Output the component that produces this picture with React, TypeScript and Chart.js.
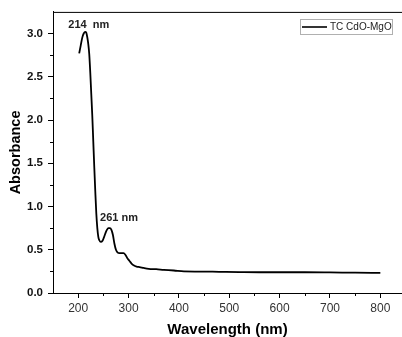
import { useEffect, useRef } from 'react';
import { Chart, registerables } from 'chart.js';

Chart.register(...registerables);

const FONT = "'Liberation Sans', Arial, sans-serif";

const wavelengths = [
  202, 205, 208, 211, 214, 216, 218, 220, 222, 224,
  226, 228, 230, 232, 234, 236, 238, 240, 242, 245,
  248, 251, 254, 257, 260, 263, 266, 269, 272, 275,
  278, 282, 286, 290, 294, 298, 302, 306, 310, 316,
  322, 330, 340, 355, 370, 390, 410, 440, 480, 520,
  560, 600, 650, 700, 750, 800,
];
const absorbance = [
  2.77, 2.86, 2.95, 3.0, 3.02, 3.01, 2.96, 2.88, 2.76, 2.55,
  2.3, 2.05, 1.75, 1.45, 1.17, 0.92, 0.75, 0.65, 0.61, 0.59,
  0.6, 0.64, 0.69, 0.73, 0.75, 0.75, 0.73, 0.67, 0.57, 0.5,
  0.47, 0.46, 0.46, 0.46, 0.44, 0.4, 0.37, 0.34, 0.32, 0.305,
  0.3, 0.29, 0.28, 0.275, 0.268, 0.26, 0.25, 0.248, 0.245, 0.242,
  0.24, 0.24, 0.24, 0.238, 0.235, 0.233,
];

const seriesLabel = 'TC CdO-MgO';
const xMajorTicks = [200, 300, 400, 500, 600, 700, 800];
const xMinorTicks = [250, 350, 450, 550, 650, 750];
const yMajorTicks = [0, 0.5, 1.0, 1.5, 2.0, 2.5, 3.0];
const yMinorTicks = [0.25, 0.75, 1.25, 1.75, 2.25, 2.75];

const annotationTexts = ['214  nm', '261 nm'];
const annotationX = [221, 281];
const annotationY = [3.1, 0.866];

const decorPlugin = {
  id: 'decor',
  afterDraw(chart: any) {
    const { ctx, chartArea, scales } = chart;
    const xs = scales.x;
    const ys = scales.y;
    ctx.save();
    ctx.strokeStyle = '#000';
    ctx.lineWidth = 1;
    // top axis line
    ctx.beginPath();
    ctx.moveTo(chartArea.left, chartArea.top + 0.5);
    ctx.lineTo(chartArea.right, chartArea.top + 0.5);
    ctx.stroke();
    // minor ticks
    ctx.beginPath();
    xMinorTicks.forEach((v) => {
      const px = Math.round(xs.getPixelForValue(v)) + 0.5;
      ctx.moveTo(px, chartArea.bottom);
      ctx.lineTo(px, chartArea.bottom + 3);
    });
    yMinorTicks.forEach((v) => {
      const py = Math.round(ys.getPixelForValue(v)) + 0.5;
      ctx.moveTo(chartArea.left - 3, py);
      ctx.lineTo(chartArea.left, py);
    });
    ctx.stroke();

    // annotations
    ctx.fillStyle = '#222';
    ctx.font = `bold 11px ${FONT}`;
    ctx.textAlign = 'center';
    ctx.textBaseline = 'middle';
    annotationTexts.forEach((t, i) => {
      ctx.fillText(t, xs.getPixelForValue(annotationX[i]), ys.getPixelForValue(annotationY[i]));
    });

    // legend box
    const lx = 300;
    const ly = 19.5;
    const lw = 92;
    const lh = 15;
    ctx.strokeStyle = '#b0b0b0';
    ctx.lineWidth = 1;
    ctx.strokeRect(lx + 0.5, ly, lw, lh);
    ctx.strokeStyle = '#000';
    ctx.lineWidth = 1.6;
    ctx.beginPath();
    ctx.moveTo(lx + 2, ly + lh / 2);
    ctx.lineTo(lx + 27, ly + lh / 2);
    ctx.stroke();
    ctx.fillStyle = '#222';
    ctx.font = `10px ${FONT}`;
    ctx.textAlign = 'left';
    ctx.textBaseline = 'middle';
    ctx.fillText(seriesLabel, lx + 30, ly + lh / 2 + 0.5);
    ctx.restore();
  },
};

export default function App() {
  const canvasRef = useRef<HTMLCanvasElement>(null);

  useEffect(() => {
    if (!canvasRef.current) return;
    const chart = new Chart(canvasRef.current, {
      type: 'line',
      data: {
        datasets: [
          {
            label: seriesLabel,
            data: wavelengths.map((w, i) => ({ x: w, y: absorbance[i] })),
            borderColor: '#000',
            borderWidth: 1.8,
            pointRadius: 0,
            cubicInterpolationMode: 'monotone',
            fill: false,
          },
        ],
      },
      options: {
        responsive: false,
        animation: false,
        events: [],
        layout: { padding: { left: 0, right: 0, top: 9, bottom: 0 } },
        plugins: {
          legend: { display: false },
          tooltip: { enabled: false },
        },
        scales: {
          x: {
            type: 'linear',
            min: 150,
            max: 843,
            border: { display: true, color: '#000', width: 1 },
            grid: { drawOnChartArea: false, drawTicks: true, tickLength: 5, color: '#000' },
            ticks: {
              autoSkip: false,
              maxRotation: 0,
              padding: 3,
              color: '#333',
              font: { family: FONT, size: 12 },
              callback: (v: any) => String(v),
            },
            afterBuildTicks: (s: any) => {
              s.ticks = xMajorTicks.map((v) => ({ value: v }));
            },
            afterFit: (s: any) => {
              s.height = 44;
            },
            title: {
              display: true,
              text: 'Wavelength (nm)',
              color: '#000',
              font: { family: FONT, size: 15, weight: 'bold', lineHeight: 1 },
              padding: { top: 0, bottom: 0 },
            },
          },
          y: {
            type: 'linear',
            min: 0,
            max: 3.25,
            border: { display: true, color: '#000', width: 1 },
            grid: { drawOnChartArea: false, drawTicks: true, tickLength: 5, color: '#000' },
            ticks: {
              autoSkip: false,
              padding: 5,
              color: '#111',
              font: { family: FONT, size: 11.5, weight: 'bold' },
              callback: (v: any) => Number(v).toFixed(1),
            },
            afterBuildTicks: (s: any) => {
              s.ticks = yMajorTicks.map((v) => ({ value: v }));
            },
            afterFit: (s: any) => {
              s.width = 53;
            },
            title: {
              display: true,
              text: 'Absorbance',
              color: '#000',
              font: { family: FONT, size: 14.5, weight: 'bold', lineHeight: 1 },
              padding: { top: 9, bottom: 0 },
            },
          },
        },
      },
      plugins: [decorPlugin],
    } as any);
    return () => chart.destroy();
  }, []);

  return (
    <div style={{ position: 'absolute', left: 0, top: 0, width: 402, height: 337, background: '#fff' }}>
      <canvas ref={canvasRef} width={402} height={337} />
    </div>
  );
}
